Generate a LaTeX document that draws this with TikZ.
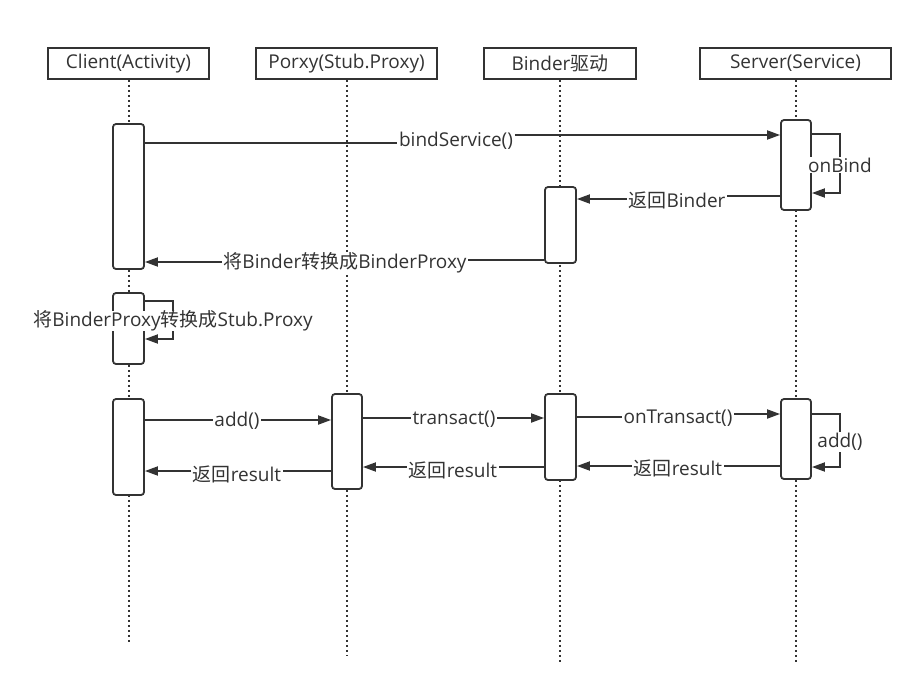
\documentclass[tikz,border=0pt]{standalone}
\usepackage{fontspec}
\setmainfont{Open Sans}
\newfontfamily\cjk{Noto Sans CJK SC}
\usetikzlibrary{arrows.meta}
\definecolor{ink}{HTML}{333333}
\begin{document}
\begin{tikzpicture}[x=1pt,y=-1pt,
  font=\fontsize{19}{22}\selectfont, color=ink, line width=1.8pt,
  head/.style={draw, line width=1.8pt, minimum height=31pt, inner sep=0pt},
  life/.style={line width=2pt, dash pattern=on 2pt off 3pt},
  act/.style={draw, fill=white, rounded corners=3pt, minimum width=31pt, inner sep=0pt},
  msg/.style={-{Triangle[length=13pt,width=9pt]}},
  lbl/.style={fill=white, inner sep=1pt}]
\useasboundingbox (0,0) rectangle (924,696);
% headers
\node[head, minimum width=161pt] (h1) at (128.5,63.5) {Client(Activity)};
\node[head, minimum width=181pt] (h2) at (346.5,63.5) {Porxy(Stub.Proxy)};
\node[head, minimum width=152pt] (h3) at (560,63.5) {Binder{\cjk 驱动}};
\node[head, minimum width=191pt] (h4) at (795.5,63.5) {Server(Service)};
% lifelines
\draw[life] (h1.south) -- (h1.south |- 0,643);
\draw[life] (h2.south) -- (h2.south |- 0,655);
\draw[life] (h3.south) -- (h3.south |- 0,663);
\draw[life] (h4.south) -- (h4.south |- 0,663);
% activations
\node[act, minimum height=145pt] (c1) at (128.5,196.5) {};
\node[act, minimum height=90pt, minimum width=30pt] (s1) at (796,165) {};
\node[act, minimum height=76pt] (b1) at (560.5,225) {};
\node[act, minimum height=71pt] (c2) at (128.5,328.5) {};
\node[act, minimum height=96pt] (c3) at (128.5,447) {};
\node[act, minimum height=95pt, minimum width=30pt] (p1) at (347,441.5) {};
\node[act, minimum height=86pt] (b2) at (560.5,437) {};
\node[act, minimum height=80pt, minimum width=30pt] (s2) at (796,439) {};
% labels
\node[lbl] (l1) at (456,141) {bindService()};
\node[lbl] (l3) at (677,200) {{\cjk 返回}Binder};
\node[lbl] (l4) at (345,263) {{\cjk 将}Binder{\cjk 转换成}BinderProxy};
\node[lbl] (l6) at (237,421) {add()};
\node[lbl] (l7) at (237,474) {{\cjk 返回}result};
\node[lbl] (l8) at (454,419) {transact()};
\node[lbl] (l9) at (453,470) {{\cjk 返回}result};
\node[lbl] (l10) at (678,418) {onTransact()};
\node[lbl] (l11) at (678,468) {{\cjk 返回}result};
% messages
\draw (c1.east |- 0,143) -- (l1.west |- 0,143);
\draw[msg] (l1.east |- 0,135) -- (s1.west |- 0,135);
\draw (s1.west |- 0,196) -- (l3.east |- 0,196);
\draw[msg] (l3.west |- 0,199) -- (b1.east |- 0,199);
\draw (b1.west |- 0,260) -- (l4.east |- 0,260);
\draw[msg] (l4.west |- 0,262) -- (c1.east |- 0,262);
\draw (c3.east |- 0,420) -- (l6.west |- 0,420);
\draw[msg] (l6.east |- 0,420) -- (p1.west |- 0,420);
\draw (p1.west |- 0,471) -- (l7.east |- 0,471);
\draw[msg] (l7.west |- 0,471) -- (c3.east |- 0,471);
\draw (p1.east |- 0,418) -- (l8.west |- 0,418);
\draw[msg] (l8.east |- 0,418) -- (b2.west |- 0,418);
\draw (b2.west |- 0,467) -- (l9.east |- 0,467);
\draw[msg] (l9.west |- 0,467) -- (p1.east |- 0,467);
\draw (b2.east |- 0,417) -- (l10.west |- 0,417);
\draw[msg] (l10.east |- 0,414) -- (s2.west |- 0,414);
\draw (s2.west |- 0,466) -- (l11.east |- 0,466);
\draw[msg] (l11.west |- 0,466) -- (b2.east |- 0,466);
% self loops
\coordinate (k2a) at (840,134);
\coordinate (k2b) at (840,193);
\draw[msg] (s1.east |- k2a) -- (k2a) -- (k2b) -- (s1.east |- k2b);
\node[lbl] (l2) at (840,165) {onBind};
\coordinate (k5a) at (173,301);
\coordinate (k5b) at (173,339);
\draw[msg] (c2.east |- k5a) -- (k5a) -- (k5b) -- (c2.east |- k5b);
\node[lbl, inner sep=0pt] (l5) at (173,321) {{\cjk 将}BinderProxy{\cjk 转换成}Stub.Proxy};
\coordinate (k12a) at (840,414);
\coordinate (k12b) at (840,467);
\draw[msg] (s2.east |- k12a) -- (k12a) -- (k12b) -- (s2.east |- k12b);
\node[lbl] (l12) at (840,442) {add()};
\end{tikzpicture}
\end{document}
